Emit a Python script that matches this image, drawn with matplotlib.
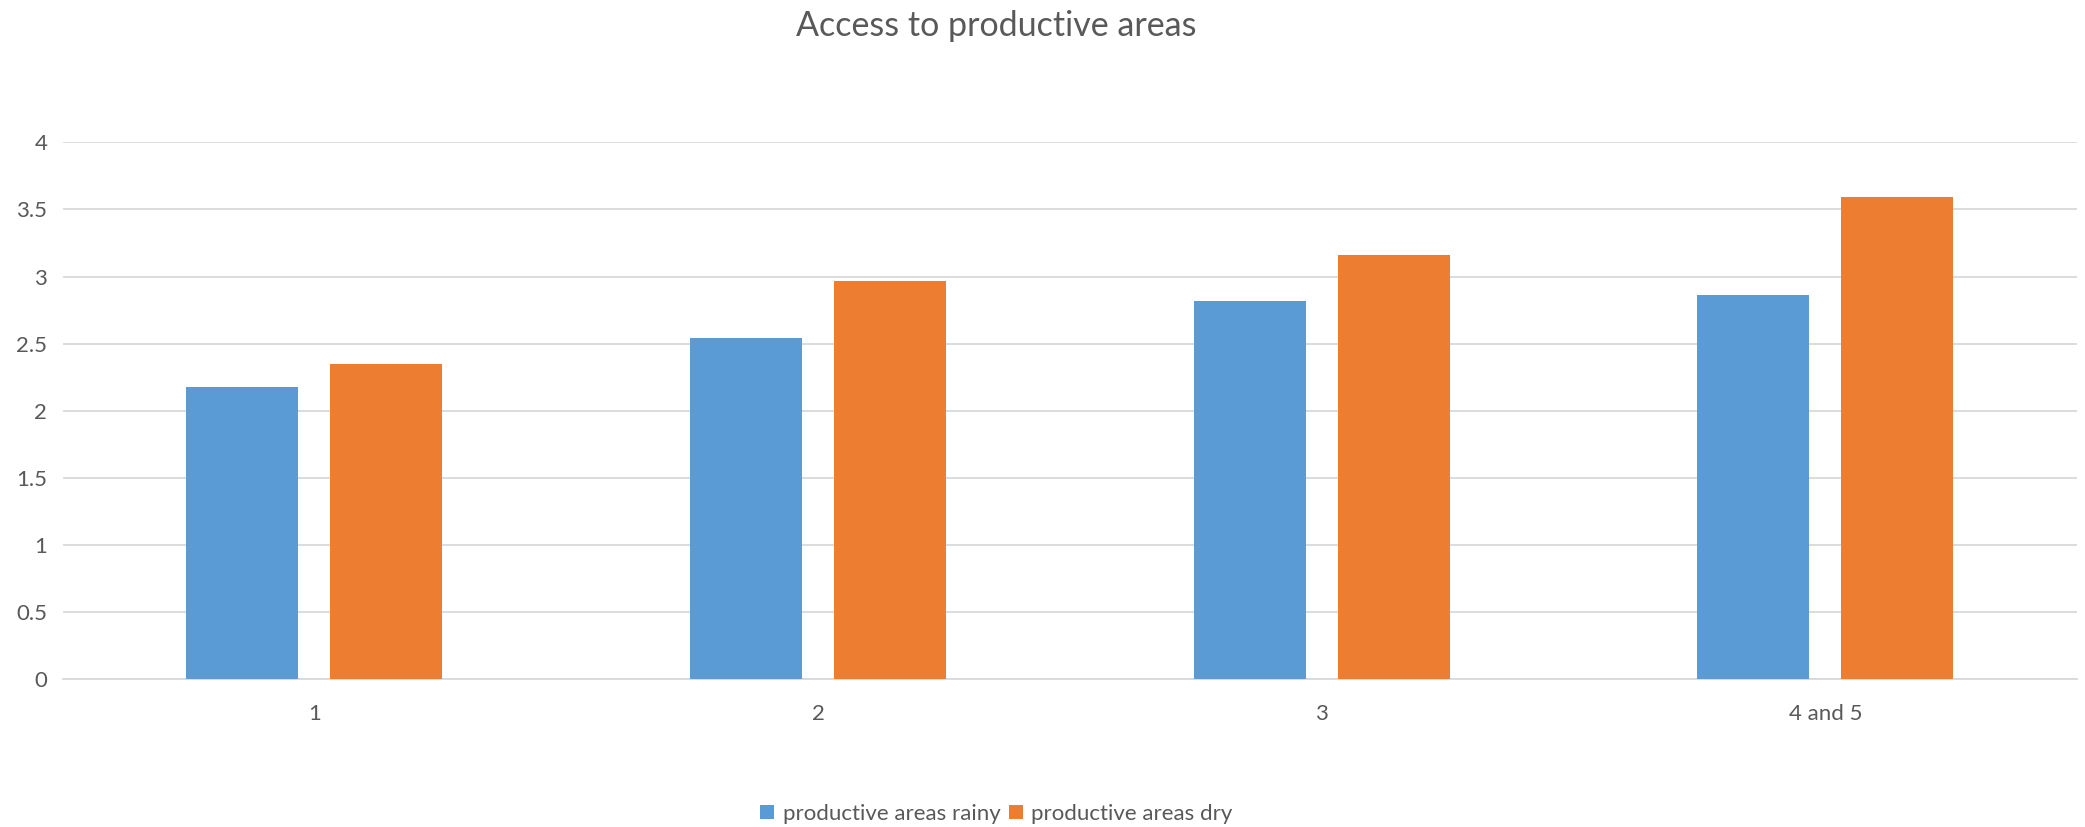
import matplotlib
matplotlib.use("Agg")
import matplotlib.pyplot as plt
import numpy as np

categories = ["1", "2", "3", "4 and 5"]
rainy = [2.18, 2.54, 2.82, 2.86]
dry = [2.35, 2.97, 3.16, 3.59]
yticks = [0, 0.5, 1, 1.5, 2, 2.5, 3, 3.5, 4]
ytick_labels = ["0", "0.5", "1", "1.5", "2", "2.5", "3", "3.5", "4"]

plt.rcParams['font.family'] = ['Lato', 'DejaVu Sans']
text_grey = "#595959"
grid_grey = "#d9d9d9"

fig = plt.figure(figsize=(20.85, 8.27), dpi=100)
ax = fig.add_axes([0.030, 0.1784, 0.9662, 0.6495])

x = np.arange(len(categories))
width = 0.222
offset = 0.143
ax.bar(x - offset, rainy, width, color="#5B9BD5", label="productive areas rainy", zorder=3)
ax.bar(x + offset, dry, width, color="#ED7D31", label="productive areas dry", zorder=3)

ax.set_xlim(-0.5, len(categories) - 0.5)
ax.set_ylim(0, 4)
ax.set_yticks(yticks)
ax.set_yticklabels(ytick_labels)
ax.set_xticks(x)
ax.set_xticklabels(categories)
ax.tick_params(axis="both", length=0, labelsize=16, colors=text_grey)
ax.tick_params(axis="x", pad=18)
ax.tick_params(axis="y", pad=11)

ax.yaxis.grid(True, color=grid_grey, linewidth=1.3, zorder=0)
for side in ["top", "right", "left"]:
    ax.spines[side].set_visible(False)
ax.spines["bottom"].set_color(grid_grey)
ax.spines["bottom"].set_linewidth(1.3)

fig.text(0.478, 0.968, "Access to productive areas", ha="center", va="center",
         fontsize=24.5, color=text_grey)

fig.legend(loc="center", bbox_to_anchor=(0.478, 0.016), ncol=2, frameon=False,
           fontsize=16, handlelength=0.6, handleheight=0.6, handletextpad=0.4,
           columnspacing=0.4, labelcolor=text_grey)

fig.savefig("out.png", dpi=100)
